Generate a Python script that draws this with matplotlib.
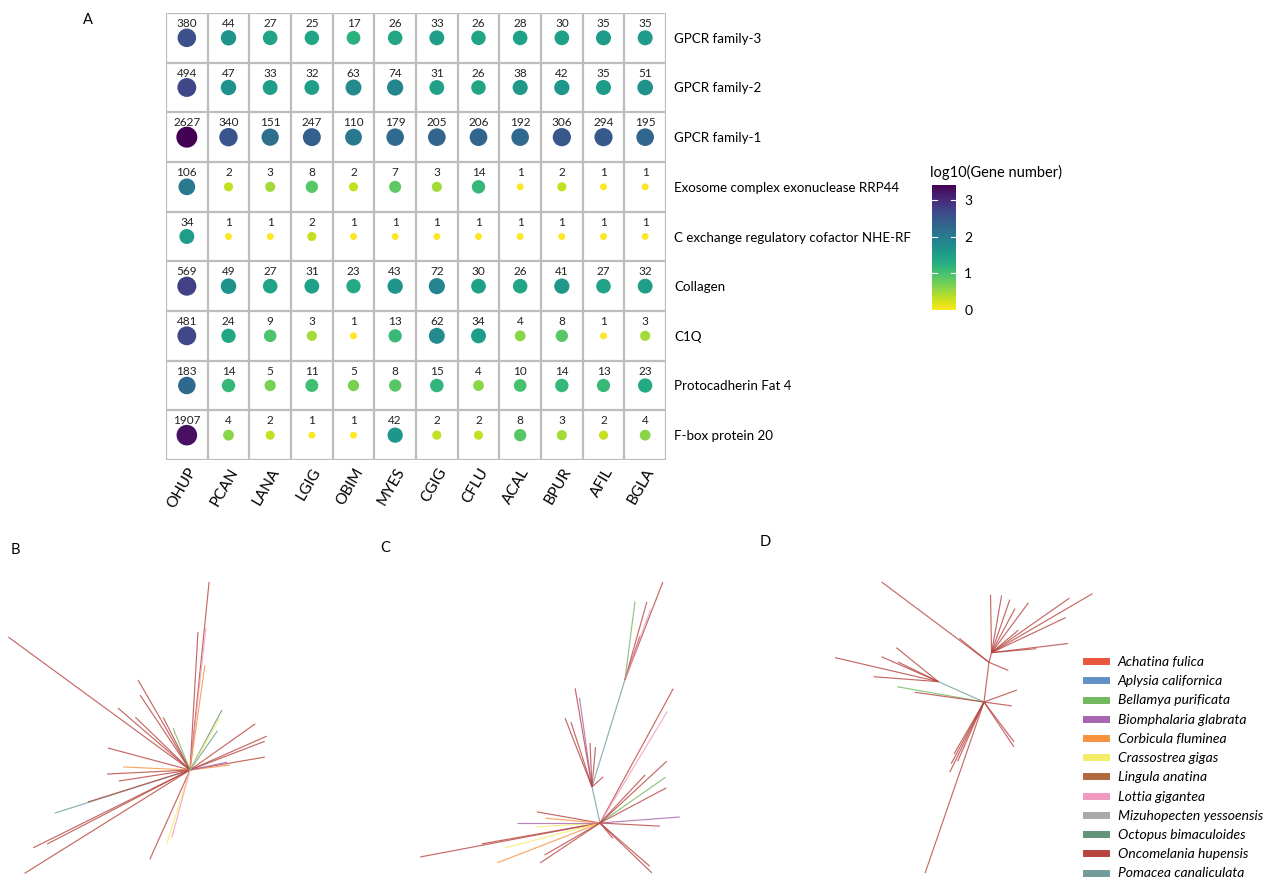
import numpy as np
import matplotlib.pyplot as plt
from matplotlib.lines import Line2D

plt.rcParams['font.family'] = ['Lato', 'DejaVu Sans']

# ---- panel A data ----
species_codes = ['OHUP', 'PCAN', 'LANA', 'LGIG', 'OBIM', 'MYES',
                 'CGIG', 'CFLU', 'ACAL', 'BPUR', 'AFIL', 'BGLA']
families = ['GPCR family-3', 'GPCR family-2', 'GPCR family-1',
            'Exosome complex exonuclease RRP44',
            'C exchange regulatory cofactor NHE-RF', 'Collagen', 'C1Q',
            'Protocadherin Fat 4', 'F-box protein 20']
gpcr3 = [380, 44, 27, 25, 17, 26, 33, 26, 28, 30, 35, 35]
gpcr2 = [494, 47, 33, 32, 63, 74, 31, 26, 38, 42, 35, 51]
gpcr1 = [2627, 340, 151, 247, 110, 179, 205, 206, 192, 306, 294, 195]
rrp44 = [106, 2, 3, 8, 2, 7, 3, 14, 1, 2, 1, 1]
nhe_rf = [34, 1, 1, 2, 1, 1, 1, 1, 1, 1, 1, 1]
collagen = [569, 49, 27, 31, 23, 43, 72, 30, 26, 41, 27, 32]
c1q = [481, 24, 9, 3, 1, 13, 62, 34, 4, 8, 1, 3]
fat4 = [183, 14, 5, 11, 5, 8, 15, 4, 10, 14, 13, 23]
fbox20 = [1907, 4, 2, 1, 1, 42, 2, 2, 8, 3, 2, 4]
counts = np.array([gpcr3, gpcr2, gpcr1, rrp44, nhe_rf, collagen, c1q, fat4, fbox20])

# ---- legend (panel D) ----
legend_species = ['Achatina fulica', 'Aplysia californica', 'Bellamya purificata',
                  'Biomphalaria glabrata', 'Corbicula fluminea', 'Crassostrea gigas',
                  'Lingula anatina', 'Lottia gigantea', 'Mizuhopecten yessoensis',
                  'Octopus bimaculoides', 'Oncomelania hupensis', 'Pomacea canaliculata']
legend_colors = ['#E8563E', '#6390C4', '#72B85E', '#A466AC', '#F7923F', '#F5EC68',
                 '#B0683F', '#F09AC2', '#A9A9A9', '#619478', '#B7443F', '#729A9B']

# ---- unrooted trees: (parent node, angle deg, branch length px, species idx) ----
tree_b = [(0, 143.8, 225, 10), (0, 84.2, 189, 10), (0, 86.7, 138, 10), (0, 83.6, 143, 7),
          (0, 81.9, 106, 4), (0, 120, 104, 10), (0, 123.7, 90, 10), (0, 139.3, 95, 10),
          (0, 136, 76, 10), (0, 117, 59, 10), (0, 112, 45, 2), (0, 165, 85, 10),
          (0, 35.3, 80, 10), (0, 23.8, 84, 10), (0, 21, 80, 10), (0, 9.8, 76, 10),
          (0, 7, 40, 4), (0, 12, 38, 3), (0, 62, 68, 9), (0, 60, 60, 5), (0, 55, 48, 11),
          (0, 177.4, 67, 4), (0, 182.8, 83, 10), (0, 188.8, 72, 10), (0, 212, 195, 10),
          (0, 206.4, 175, 10), (0, 207.4, 161, 10), (0, 197.7, 142, 11),
          (0, 197.4, 107, 10), (0, 245.8, 98, 10), (0, 252.5, 77, 5), (0, 255, 70, 7)]
tree_c = [(0, 102.5, 37, 11), (1, 72.9, 112, 11),
          (2, 68.8, 105, 10), (2, 74.3, 81, 10), (2, 82.7, 79, 2), (2, 71, 46, 10),
          (2, 70, 75, 7),
          (1, 99.7, 100, 10), (1, 98, 90, 3), (1, 111.4, 74, 10), (1, 108, 68, 10),
          (1, 92.6, 44, 10), (1, 85, 40, 10), (1, 42, 15, 10),
          (0, 61.4, 153, 10), (0, 58.9, 130, 7), (0, 42.8, 91, 10), (0, 34.9, 80, 2),
          (0, 27.9, 75, 10), (0, 46.8, 66, 10), (0, 4.3, 80, 3), (0, -3, 60, 10),
          (0, -43.9, 72, 10), (0, -41, 66, 10), (0, -50, 20, 10),
          (0, 190.7, 183, 10), (0, 201.2, 110, 4), (0, 190, 120, 10), (0, 194.7, 98, 5),
          (0, 183.5, 65, 5), (0, 180, 83, 3), (0, 170, 64, 10), (0, 175, 55, 4),
          (0, 213.7, 72, 10), (0, 210, 64, 10)]
tree_d = [(0, 156, 50, 11),
          (1, 166.9, 106, 10), (1, 141, 54, 10), (1, 156.3, 62, 10), (1, 175.6, 65, 10),
          (1, 154, 45, 10),
          (0, 170, 88, 2), (0, 172, 70, 10),
          (0, 82.9, 40, 10),
          (9, 143.2, 134, 10), (9, 141, 38, 10), (9, -22.8, 21, 10), (9, 75, 10, 10),
          (13, 91, 58, 10), (13, 71, 56, 10), (13, 53.5, 62, 10), (13, 30.3, 117, 10),
          (13, 25.3, 82, 10), (13, 6.8, 77, 10), (13, 5, 45, 10), (13, 80, 58, 10),
          (13, 40, 35, 10), (13, 62, 50, 10), (13, 35, 95, 10),
          (0, 20, 35, 10), (0, -8, 28, 10),
          (0, -56.3, 54, 10), (0, -53, 50, 10),
          (0, 251, 181, 10), (0, 244, 78, 10), (0, 242, 70, 10), (0, 246, 65, 10),
          (0, 240, 60, 10)]
tree_roots = {'B': (190, 770), 'C': (600, 823), 'D': (984, 702)}

fig = plt.figure(figsize=(12.65, 8.83), dpi=100)

# ---- panel A ----
ax = fig.add_axes([166 / 1265, 1 - 460 / 883, 500 / 1265, 447 / 883])
nrow, ncol = counts.shape
logv = np.log10(counts)
vmax = logv.max()
xx, yy = np.meshgrid(np.arange(ncol), np.arange(nrow))
sizes = 25 + (228 - 25) * logv / vmax
sc = ax.scatter(xx.ravel(), yy.ravel(), s=sizes.ravel(), c=logv.ravel(),
                cmap='viridis_r', vmin=0, vmax=vmax, edgecolors='none', zorder=3)
for r in range(nrow):
    for c in range(ncol):
        ax.text(c, r - 0.29, str(counts[r, c]), ha='center', va='center',
                fontsize=8.5, color='#222222')
ax.set_xlim(-0.5, ncol - 0.5)
ax.set_ylim(nrow - 0.5, -0.5)
for v in np.arange(-0.5, ncol, 1):
    ax.axvline(v, color='#bdbdbd', lw=1.6, zorder=1)
for v in np.arange(-0.5, nrow, 1):
    ax.axhline(v, color='#bdbdbd', lw=1.6, zorder=1)
for s in ax.spines.values():
    s.set_visible(False)
ax.set_xticks(range(ncol))
ax.set_xticklabels(species_codes, rotation=60, ha='right', rotation_mode='anchor',
                   fontsize=11)
ax.set_yticks(range(nrow))
ax.set_yticklabels(families, fontsize=9.6)
ax.yaxis.tick_right()
ax.tick_params(length=0, pad=6)
ax.tick_params(axis='x', pad=4)

cax = fig.add_axes([932 / 1265, 1 - 310 / 883, 24 / 1265, 125 / 883])
cb = fig.colorbar(sc, cax=cax)
cb.outline.set_visible(False)
cb.set_ticks([0, 1, 2, 3])
cax.tick_params(length=0, labelsize=10, pad=6)
for t in [0, 1, 2, 3]:
    cax.plot([0, 0.2], [t, t], color='white', lw=0.8, transform=cax.get_yaxis_transform())
    cax.plot([0.8, 1], [t, t], color='white', lw=0.8, transform=cax.get_yaxis_transform())
fig.text(930 / 1265, 1 - 172 / 883, 'log10(Gene number)', fontsize=10.5, va='center')

# ---- panels B, C, D ----
axt = fig.add_axes([0, 0, 1, 1], zorder=-1)
axt.set_xlim(0, 1265)
axt.set_ylim(883, 0)
axt.axis('off')
for key, tree in zip(['B', 'C', 'D'], [tree_b, tree_c, tree_d]):
    x0, y0 = tree_roots[key]
    pos = [(x0, y0)]
    for parent, ang, length, sp in tree:
        px, py = pos[parent]
        a = np.deg2rad(ang)
        nx, ny = px + length * np.cos(a), py - length * np.sin(a)
        pos.append((nx, ny))
        axt.plot([px, nx], [py, ny], color=legend_colors[sp], lw=0.85, alpha=0.8,
                 solid_capstyle='butt')

for label, (lx, ly) in zip(['A', 'B', 'C', 'D'],
                           [(88, 20), (15, 550), (385, 548), (765, 542)]):
    fig.text(lx / 1265, 1 - ly / 883, label, fontsize=10.5, ha='center', va='center')

handles = [Line2D([], [], color=c, lw=5) for c in legend_colors]
leg = fig.legend(handles, legend_species, loc='upper left',
                 bbox_to_anchor=(1086 / 1265, 1 - 656 / 883), frameon=False,
                 borderpad=0, borderaxespad=0,
                 handlelength=1.45, handletextpad=0.85, labelspacing=0.52,
                 prop={'style': 'italic', 'size': 10})

fig.savefig('out.png', dpi=100)
